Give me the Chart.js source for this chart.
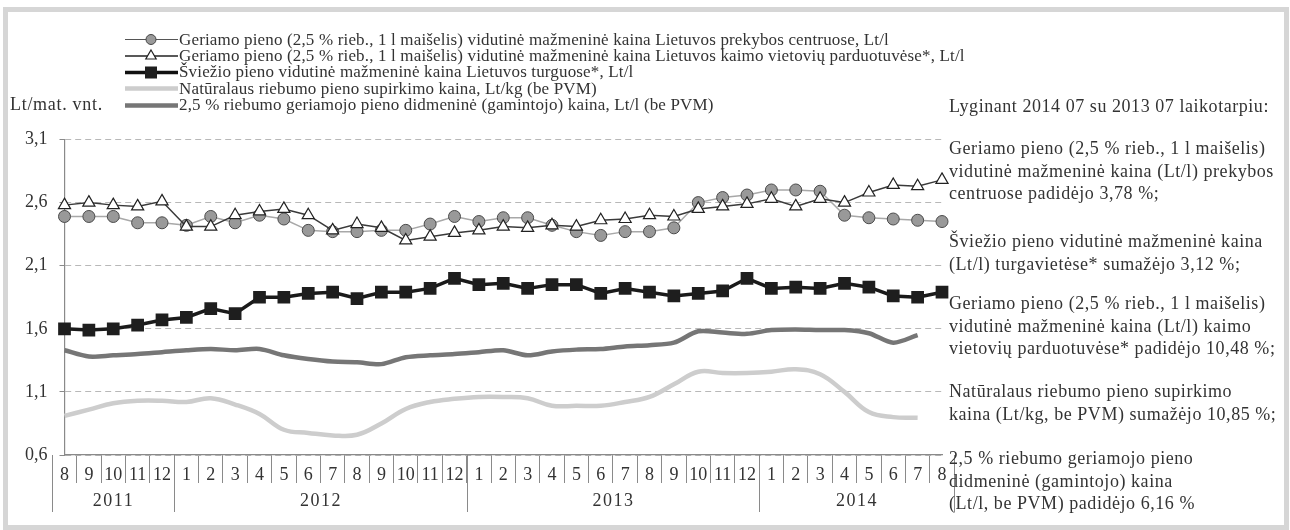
<!DOCTYPE html>
<html>
<head>
<meta charset="utf-8">
<script src="https://cdn.jsdelivr.net/npm/chart.js@4.4.0/dist/chart.umd.min.js"></script>
<style>
  body { margin: 0; width: 1290px; height: 530px; overflow: hidden; position: relative; background: #fff;
         font-family: "Liberation Serif", "DejaVu Serif", serif; color: #333; }
  #frame { position: absolute; left: 3px; top: 7px; width: 1276px; height: 513px; border: 5px solid #d6d6d6; }
  #wrap { position: absolute; left: 0; top: 0; width: 1290px; height: 530px; }
  .row { position: absolute; left: 125px; height: 17px; display: flex; align-items: center; white-space: nowrap; font-size: 17px; letter-spacing: 0.16px; }
  .row svg { flex: none; margin-right: 1px; }
  #unit { position: absolute; left: 10px; top: 94px; font-size: 18px; letter-spacing: 0.7px; white-space: nowrap; }
  #note { position: absolute; left: 949px; font-size: 18px; letter-spacing: 0.55px; line-height: 22.5px; white-space: nowrap; }
  #note p { position: absolute; left: 0; margin: 0; }
</style>
</head>
<body>
<div id="frame"></div>
<div id="wrap"><canvas id="milkChart" width="1290" height="530"></canvas></div>

<div class="row" style="top:31px">
  <svg width="53" height="17"><line x1="0" y1="8.5" x2="53" y2="8.5" stroke="#555" stroke-width="1.2"/><circle cx="26" cy="8.5" r="5" fill="#9a9a9a" stroke="#444" stroke-width="1"/></svg>
  <span>Geriamo pieno (2,5 % rieb., 1 l maišelis) vidutinė mažmeninė kaina Lietuvos prekybos centruose, Lt/l</span>
</div>
<div class="row" style="top:47px">
  <svg width="53" height="17"><line x1="0" y1="9" x2="53" y2="9" stroke="#222" stroke-width="1.4"/><polygon points="26,3 31.2,12 20.8,12" fill="#fff" stroke="#222" stroke-width="1.2"/></svg>
  <span>Geriamo pieno (2,5 % rieb., 1 l maišelis) vidutinė mažmeninė kaina Lietuvos kaimo vietovių parduotuvėse*, Lt/l</span>
</div>
<div class="row" style="top:63.5px">
  <svg width="53" height="17"><line x1="0" y1="8.5" x2="53" y2="8.5" stroke="#111" stroke-width="3.5"/><rect x="20" y="2.5" width="12" height="12" fill="#1e1e1e"/></svg>
  <span>Šviežio pieno vidutinė mažmeninė kaina Lietuvos turguose*, Lt/l</span>
</div>
<div class="row" style="top:80px">
  <svg width="53" height="17"><line x1="0" y1="8.5" x2="53" y2="8.5" stroke="#cdcdcd" stroke-width="4.5"/></svg>
  <span>Natūralaus riebumo pieno supirkimo kaina, Lt/kg (be PVM)</span>
</div>
<div class="row" style="top:96.5px">
  <svg width="53" height="17"><line x1="0" y1="8.5" x2="53" y2="8.5" stroke="#767676" stroke-width="4.5"/></svg>
  <span>2,5 % riebumo geriamojo pieno didmeninė (gamintojo) kaina, Lt/l (be PVM)</span>
</div>
<div id="unit">Lt/mat. vnt.</div>

<div id="note">
  <p style="top:95px">Lyginant 2014 07 su 2013 07 laikotarpiu:</p>
  <p style="top:137px">Geriamo pieno (2,5 % rieb., 1 l maišelis)<br>vidutinė mažmeninė kaina (Lt/l) prekybos<br>centruose padidėjo 3,78 %;</p>
  <p style="top:230px">Šviežio pieno vidutinė mažmeninė kaina<br>(Lt/l) turgavietėse* sumažėjo 3,12 %;</p>
  <p style="top:292px">Geriamo pieno (2,5 % rieb., 1 l maišelis)<br>vidutinė mažmeninė kaina (Lt/l) kaimo<br>vietovių parduotuvėse* padidėjo 10,48 %;</p>
  <p style="top:380px">Natūralaus riebumo pieno supirkimo<br>kaina (Lt/kg, be PVM) sumažėjo 10,85 %;</p>
  <p style="top:447px">2,5 % riebumo geriamojo pieno<br>didmeninė (gamintojo) kaina<br>(Lt/l, be PVM) padidėjo 6,16 %</p>
</div>

<script>
// months 2011-08 .. 2014-08
var months = ['8','9','10','11','12',
  '1','2','3','4','5','6','7','8','9','10','11','12',
  '1','2','3','4','5','6','7','8','9','10','11','12',
  '1','2','3','4','5','6','7','8'];
var years = ['2011', '2012', '2013', '2014'];
var yearSpan = [5, 12, 12, 8];
var yTicks = [0.6, 1.1, 1.6, 2.1, 2.6, 3.1];

var priceCentres = [2.49, 2.49, 2.49, 2.44, 2.44,
  2.42, 2.49, 2.44, 2.50, 2.47, 2.38, 2.37, 2.37, 2.38, 2.38, 2.43, 2.49,
  2.45, 2.48, 2.48, 2.42, 2.37, 2.34, 2.37, 2.37, 2.40, 2.60, 2.64, 2.66,
  2.70, 2.70, 2.69, 2.50, 2.48, 2.47, 2.46, 2.45];
var priceRural = [2.58, 2.60, 2.58, 2.57, 2.61,
  2.41, 2.41, 2.50, 2.53, 2.55, 2.50, 2.38, 2.43, 2.40, 2.30, 2.33, 2.36,
  2.38, 2.41, 2.40, 2.42, 2.41, 2.46, 2.47, 2.50, 2.49, 2.55, 2.57, 2.59,
  2.63, 2.57, 2.63, 2.60, 2.68, 2.74, 2.73, 2.78];
var priceMarkets = [1.60, 1.59, 1.60, 1.63, 1.67,
  1.69, 1.76, 1.72, 1.85, 1.85, 1.88, 1.89, 1.84, 1.89, 1.89, 1.92, 2.00,
  1.95, 1.96, 1.92, 1.95, 1.95, 1.88, 1.92, 1.89, 1.86, 1.88, 1.90, 2.00,
  1.92, 1.93, 1.92, 1.96, 1.93, 1.86, 1.85, 1.89];
var rawMilk = [0.91, 0.96, 1.01, 1.03, 1.03,
  1.02, 1.05, 1.00, 0.925, 0.80, 0.775, 0.755, 0.76, 0.85, 0.965, 1.02, 1.045,
  1.06, 1.06, 1.05, 0.99, 0.99, 0.99, 1.02, 1.06, 1.16, 1.26, 1.25, 1.25,
  1.26, 1.28, 1.24, 1.10, 0.94, 0.90, 0.895, null];
var wholesale = [1.43, 1.38, 1.39, 1.40, 1.415,
  1.43, 1.44, 1.43, 1.44, 1.39, 1.36, 1.34, 1.335, 1.32, 1.375, 1.39, 1.40,
  1.415, 1.43, 1.39, 1.42, 1.435, 1.44, 1.46, 1.47, 1.49, 1.58, 1.57, 1.56,
  1.59, 1.595, 1.59, 1.59, 1.565, 1.49, 1.55, null];

var serif = '"Liberation Serif", serif';

// second row of the x axis: years + long separators
var yearRow = {
  id: 'yearRow',
  afterDraw: function (chart) {
    var x = chart.scales.x;
    var ctx = chart.ctx;
    var half = (x.getPixelForValue(1) - x.getPixelForValue(0)) / 2;
    var edge = function (i) { return Math.round(x.getPixelForValue(i) - half) + 0.5; };
    var bottom = x.top + 57;
    ctx.save();
    ctx.strokeStyle = '#8a8a8a';
    ctx.lineWidth = 1;
    ctx.fillStyle = '#333';
    ctx.font = '18px ' + serif;
    ctx.letterSpacing = '1.5px';
    ctx.textAlign = 'center';
    ctx.textBaseline = 'middle';
    var start = 0;
    for (var k = 0; k < years.length; k++) {
      var end = start + yearSpan[k];
      var a = edge(start), b = edge(end);
      ctx.beginPath();
      ctx.moveTo(a, x.top);
      ctx.lineTo(a, bottom);
      ctx.stroke();
      ctx.fillText(years[k], (a + b) / 2, x.top + 46);
      start = end;
    }
    var last = edge(months.length);
    ctx.beginPath();
    ctx.moveTo(last, x.top);
    ctx.lineTo(last, bottom);
    ctx.stroke();
    ctx.restore();
  }
};

var ctx = document.getElementById('milkChart');
var milkChart = new Chart(ctx, {
  type: 'line',
  data: {
    labels: months,
    datasets: [{
      label: 'Prekybos centruose',
      data: priceCentres,
      borderColor: '#a8a8a8',
      borderWidth: 1.5,
      pointStyle: 'circle',
      pointRadius: 6,
      pointBackgroundColor: '#999',
      pointBorderColor: '#4a4a4a',
      pointBorderWidth: 1,
      order: 2
    }, {
      label: 'Kaimo vietovių parduotuvėse',
      data: priceRural,
      borderColor: '#3a3a3a',
      borderWidth: 1.5,
      pointStyle: 'triangle',
      pointRadius: 7,
      pointBackgroundColor: '#fff',
      pointBorderColor: '#222',
      pointBorderWidth: 1.2,
      order: 1
    }, {
      label: 'Turguose',
      data: priceMarkets,
      borderColor: '#1a1a1a',
      borderWidth: 3.5,
      pointStyle: 'rect',
      pointRadius: 9,
      pointBackgroundColor: '#1e1e1e',
      pointBorderColor: '#1e1e1e',
      pointBorderWidth: 0,
      order: 0
    }, {
      label: 'Supirkimo kaina',
      data: rawMilk,
      borderColor: '#cdcdcd',
      borderWidth: 4.5,
      pointRadius: 0,
      tension: 0.4,
      order: 4
    }, {
      label: 'Didmeninė kaina',
      data: wholesale,
      borderColor: '#767676',
      borderWidth: 4.5,
      pointRadius: 0,
      tension: 0.3,
      order: 3
    }]
  },
  options: {
    responsive: false,
    animation: false,
    layout: { padding: { left: 0, right: 348, top: 139.5, bottom: 0 } },
    plugins: { legend: { display: false }, tooltip: { enabled: false } },
    scales: {
      x: {
        grid: { drawOnChartArea: false, drawTicks: true, tickLength: 28, offset: true, color: '#8a8a8a', tickColor: '#8a8a8a' },
        border: { color: '#8a8a8a', width: 1.2 },
        ticks: { autoSkip: false, maxRotation: 0, padding: -19, color: '#333', font: { family: serif, size: 18 } },
        afterFit: function (s) { s.height = 75; }
      },
      y: {
        min: 0.6,
        max: 3.1,
        afterBuildTicks: function (s) { s.ticks = yTicks.map(function (v) { return { value: v }; }); },
        ticks: {
          padding: 12,
          color: '#333',
          font: { family: serif, size: 18 },
          callback: function (v) { return v.toFixed(1).replace('.', ','); }
        },
        grid: { color: '#b8b8b8', tickColor: '#8a8a8a', tickLength: 5, lineWidth: 1 },
        border: { color: '#8a8a8a', width: 1.2, dash: [6, 4] },
        afterFit: function (s) { s.width = 64.5; }
      }
    }
  },
  plugins: [yearRow]
});
</script>
</body>
</html>
